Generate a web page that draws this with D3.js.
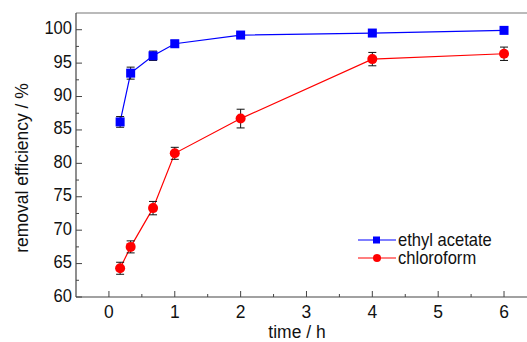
<!DOCTYPE html>
<html>
<head>
<meta charset="utf-8">
<script src="https://cdn.jsdelivr.net/npm/d3@7"></script>
<style>
  body { margin: 0; background: #fff; }
  svg { display: block; font-family: "Liberation Sans", Arial, sans-serif; }
</style>
</head>
<body>
<div id="chart"></div>
<script>
// data
var time_h = [0.17, 0.33, 0.67, 1, 2, 4, 6];
var ethyl_acetate = [86.2, 93.5, 96.1, 97.9, 99.2, 99.5, 99.9];
var ethyl_acetate_err = [0.8, 0.9, 0.7, 0.5, 0.2, 0.2, 0.2];
var chloroform = [64.3, 67.5, 73.3, 81.5, 86.7, 95.6, 96.4];
var chloroform_err = [0.9, 0.9, 1.0, 0.9, 1.4, 1.0, 1.0];
var x_ticks = [0, 1, 2, 3, 4, 5, 6];
var y_ticks = [60, 65, 70, 75, 80, 85, 90, 95, 100];
var series_names = ["ethyl acetate", "chloroform"];

var width = 527, height = 342;
var margin = { top: 13, left: 76, bottom: 45 };
var squeeze = 0.92; // the original font is a bit condensed

var svg = d3.select("#chart").append("svg")
  .attr("width", width).attr("height", height);

// x runs past the right edge of the window (cropped figure)
var x = d3.scaleLinear().domain([-0.5, 6.5]).range([margin.left, 76 + 7 * 65.85]);
var y = d3.scaleLinear().domain([60, 102.5]).range([height - margin.bottom, margin.top]);

// text helper with horizontal squeeze
function label(tx, ty, str, size, anchor, rot) {
  return svg.append("text")
    .attr("transform", "translate(" + tx + "," + ty + ")" + (rot ? " rotate(" + rot + ")" : "") + " scale(" + squeeze + ",1)")
    .attr("text-anchor", anchor).attr("font-size", size).attr("fill", "#111").text(str);
}

// frame
svg.append("line").attr("x1", x(-0.5)).attr("x2", x(6.5)).attr("y1", y(102.5)).attr("y2", y(102.5))
  .attr("stroke", "#777").attr("stroke-width", 1.2);
svg.append("line").attr("x1", x(-0.5)).attr("x2", x(6.5)).attr("y1", y(60)).attr("y2", y(60))
  .attr("stroke", "#444").attr("stroke-width", 1.2);
svg.append("line").attr("x1", x(-0.5)).attr("x2", x(-0.5)).attr("y1", y(60)).attr("y2", y(102.5))
  .attr("stroke", "#444").attr("stroke-width", 1.2);

// x ticks (inward)
svg.selectAll(".xmaj").data(x_ticks).enter().append("line")
  .attr("x1", function (d) { return x(d); }).attr("x2", function (d) { return x(d); })
  .attr("y1", y(60)).attr("y2", y(60) - 6).attr("stroke", "#444");
svg.selectAll(".xmin").data(x_ticks.map(function (d) { return d + 0.5; })).enter().append("line")
  .attr("x1", function (d) { return x(d); }).attr("x2", function (d) { return x(d); })
  .attr("y1", y(60)).attr("y2", y(60) - 3).attr("stroke", "#444");
x_ticks.forEach(function (d) { label(x(d), 318, d, 19, "middle"); });

// y ticks (inward)
svg.selectAll(".ymaj").data(y_ticks).enter().append("line")
  .attr("x1", x(-0.5)).attr("x2", x(-0.5) + 6)
  .attr("y1", function (d) { return y(d); }).attr("y2", function (d) { return y(d); })
  .attr("stroke", "#444");
svg.selectAll(".ymin").data(y_ticks.slice(0, -1).map(function (d) { return d + 2.5; })).enter().append("line")
  .attr("x1", x(-0.5)).attr("x2", x(-0.5) + 3)
  .attr("y1", function (d) { return y(d); }).attr("y2", function (d) { return y(d); })
  .attr("stroke", "#444");
y_ticks.forEach(function (d) { label(x(-0.5) - 4, y(d) + 4.5, d, 18, "end"); });

// axis titles
label(297, 338, "time / h", 19, "middle");
label(28, 168, "removal efficiency / %", 19, "middle", -90);

var line = d3.line().x(function (d) { return x(d[0]); }).y(function (d) { return y(d[1]); });

function drawSeries(vals, errs, color, shape) {
  var pts = time_h.map(function (t, i) { return [t, vals[i], errs[i]]; });
  svg.append("path").datum(pts).attr("d", line)
    .attr("fill", "none").attr("stroke", color).attr("stroke-width", 1.2);
  var g = svg.append("g");
  pts.forEach(function (p) {
    var cx = x(p[0]);
    g.append("line").attr("x1", cx).attr("x2", cx)
      .attr("y1", y(p[1] - p[2])).attr("y2", y(p[1] + p[2])).attr("stroke", "#111");
    [p[1] - p[2], p[1] + p[2]].forEach(function (v) {
      g.append("line").attr("x1", cx - 4).attr("x2", cx + 4)
        .attr("y1", y(v)).attr("y2", y(v)).attr("stroke", "#111");
    });
  });
  if (shape === "square") {
    g.selectAll("rect").data(pts).enter().append("rect")
      .attr("x", function (d) { return x(d[0]) - 4.5; })
      .attr("y", function (d) { return y(d[1]) - 4.5; })
      .attr("width", 9).attr("height", 9).attr("fill", color);
  } else {
    g.selectAll("circle").data(pts).enter().append("circle")
      .attr("cx", function (d) { return x(d[0]); })
      .attr("cy", function (d) { return y(d[1]); })
      .attr("r", 5).attr("fill", color);
  }
}

drawSeries(chloroform, chloroform_err, "#ff0000", "circle");
drawSeries(ethyl_acetate, ethyl_acetate_err, "#0000ff", "square");

// legend
var legend = [[series_names[0], "#0000ff", "square", 240, 246], [series_names[1], "#ff0000", "circle", 258, 264]];
legend.forEach(function (l) {
  svg.append("line").attr("x1", 358).attr("x2", 396).attr("y1", l[3]).attr("y2", l[3])
    .attr("stroke", l[1]).attr("stroke-width", 1.2);
  if (l[2] === "square") {
    svg.append("rect").attr("x", 373).attr("y", l[3] - 3.5).attr("width", 7).attr("height", 7).attr("fill", l[1]);
  } else {
    svg.append("circle").attr("cx", 377).attr("cy", l[3]).attr("r", 4).attr("fill", l[1]);
  }
  label(398, l[4], l[0], 18, "start");
});
</script>
</body>
</html>
